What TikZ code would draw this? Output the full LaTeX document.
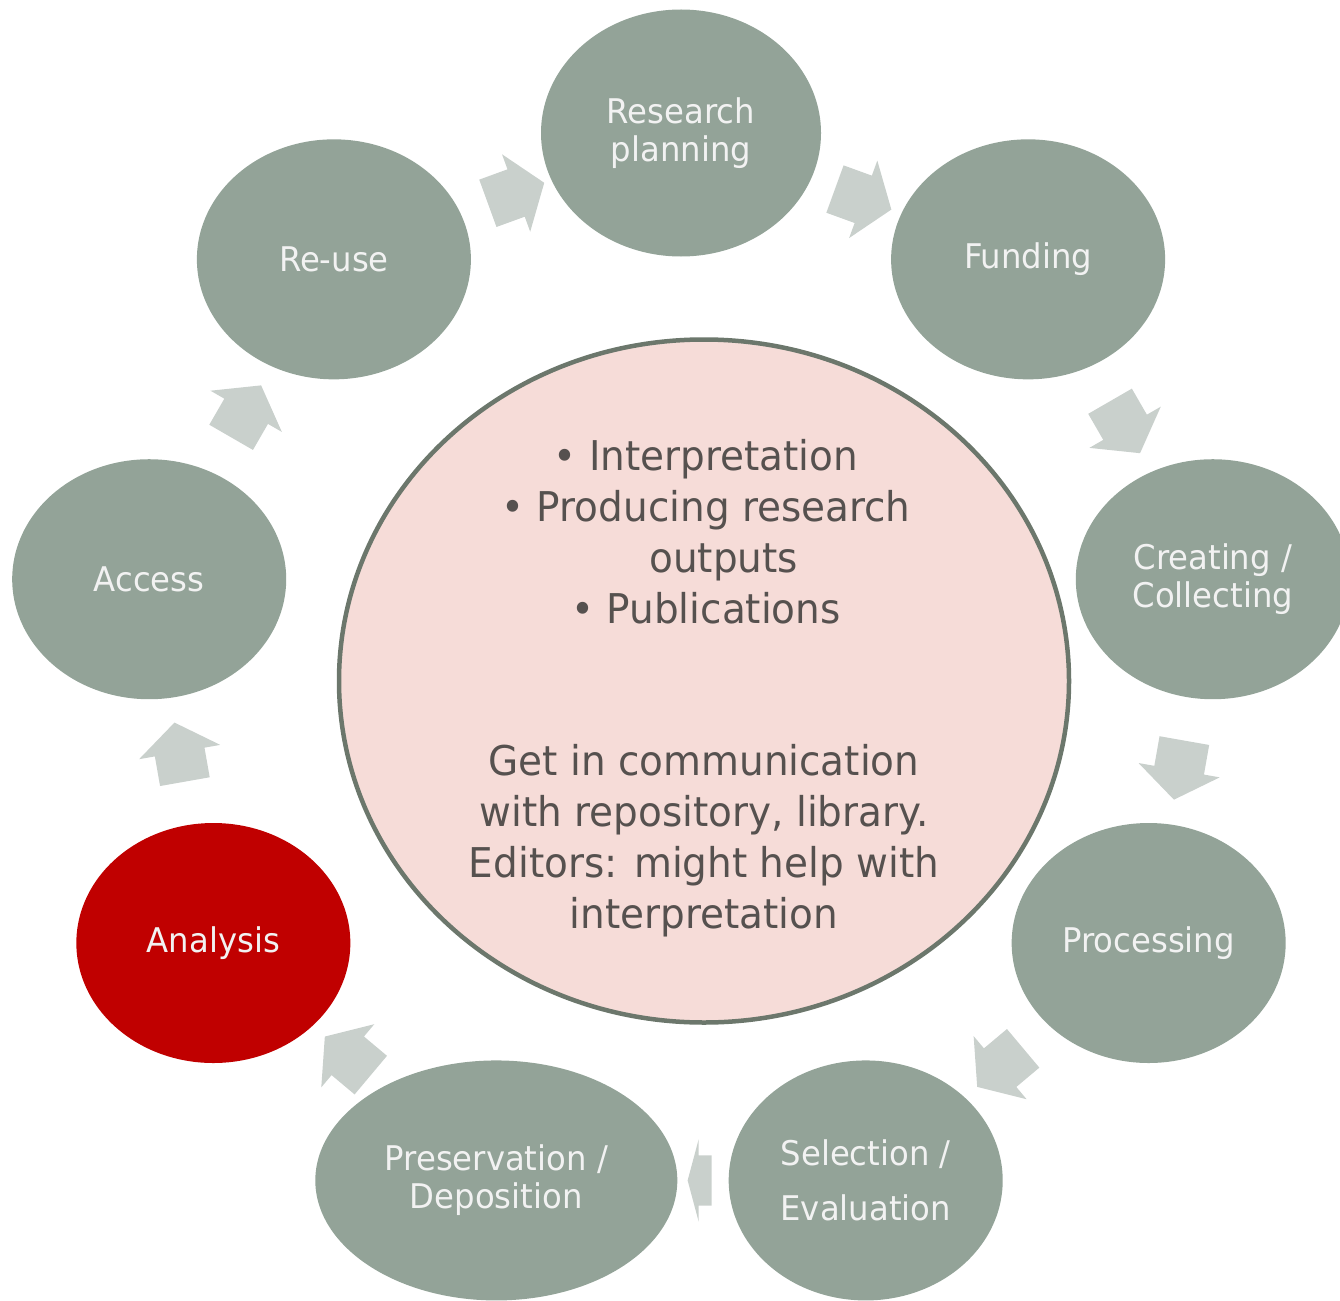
\documentclass[tikz,border=0pt]{standalone}
\usepackage{fontspec}
\setmainfont{DejaVu Sans}[FakeStretch=0.95]
\usetikzlibrary{shapes.geometric,shapes.arrows,positioning,calc}
\usepackage{xcolor}
\definecolor{sage}{HTML}{93A398}
\definecolor{mist}{HTML}{C9D0CC}
\definecolor{blush}{HTML}{F6DCD8}
\definecolor{rim}{HTML}{6C776C}
\definecolor{ink}{HTML}{56514F}
\definecolor{alert}{HTML}{C00000}

\begin{document}
\begin{tikzpicture}[x=1pt,y=1pt]
\tikzstyle{phase}=[ellipse, fill=sage, text=white!95!black, minimum width=274pt, minimum height=240pt, inner sep=0pt, align=center, font=\fontsize{34}{38}\selectfont]
\tikzstyle{flow}=[single arrow, fill=mist, inner xsep=0pt, inner ysep=25pt, single arrow head extend=16pt, single arrow tip angle=108, minimum height=60pt]
\tikzstyle{note}=[text=ink, align=center, font=\fontsize{41}{51}\selectfont]

	\useasboundingbox (0,0) rectangle (1340,-1300);
	\coordinate (c) at (681,-673);

	\node[ellipse, draw=rim, line width=4.5pt, fill=blush, minimum width=730pt, minimum height=683pt] (hub) at (704,-681) {};
	    \node[note] (top) at ($(hub)+(2,149)$) {•\ Interpretation\\•\ Producing research\\\phantom{•\ }outputs\\•\ Publications};
	    \node[note] (bottom) at ($(hub)+(0,-160)$) {Get in communication\\with repository, library.\\Editors: might help with\\interpretation};

	\node[phase, minimum width=280pt, minimum height=247pt] (p_1) at ($(c)+(90:540)$) {Research\\planning};
	\node[phase]		(p_2) at ($(c)+(50:540)$)	{Funding};
	\node[phase]		(p_3) at ($(c)+(10:540)$)	{Creating /\\Collecting};
	\node[phase]		(p_4) at ($(c)+(-30:540)$)	{Processing};
	\node[phase]		(p_5) at ($(c)+(-70:540)$)	{Selection /\\[17pt]Evaluation};
	\node[phase, minimum width=362pt] (p_6) at ($(c)+(-110:540)$) {Preservation /\\Deposition};
	\node[phase, fill=alert] (p_7) at ($(c)+(-150:540)$) {Analysis};
	\node[phase]		(p_8) at ($(c)+(170:540)$)	{Access};
	\node[phase]		(p_9) at ($(c)+(130:540)$)	{Re-use};

	\node[flow, rotate=20]   (a_1) at ($(p_9)!0.5!(p_1)$) {};
	\node[flow, rotate=-20]  (a_2) at ($(p_1)!0.5!(p_2)$) {};
	\node[flow, rotate=-60]  (a_3) at ($(p_2)!0.5!(p_3)$) {};
	\node[flow, rotate=-100] (a_4) at ($(p_3)!0.5!(p_4)$) {};
	\node[flow, rotate=-140] (a_5) at ($(p_4)!0.5!(p_5)$) {};
	\node[flow, rotate=180, minimum height=24pt, single arrow tip angle=150] (a_6) at ($(p_5.west)!0.5!(p_6.east)$) {};
	\node[flow, rotate=140]  (a_7) at ($(p_6)!0.5!(p_7)$) {};
	\node[flow, rotate=100]  (a_8) at ($(p_7)!0.5!(p_8)$) {};
	\node[flow, rotate=60]   (a_9) at ($(p_8)!0.5!(p_9)$) {};
\end{tikzpicture}
\end{document}
